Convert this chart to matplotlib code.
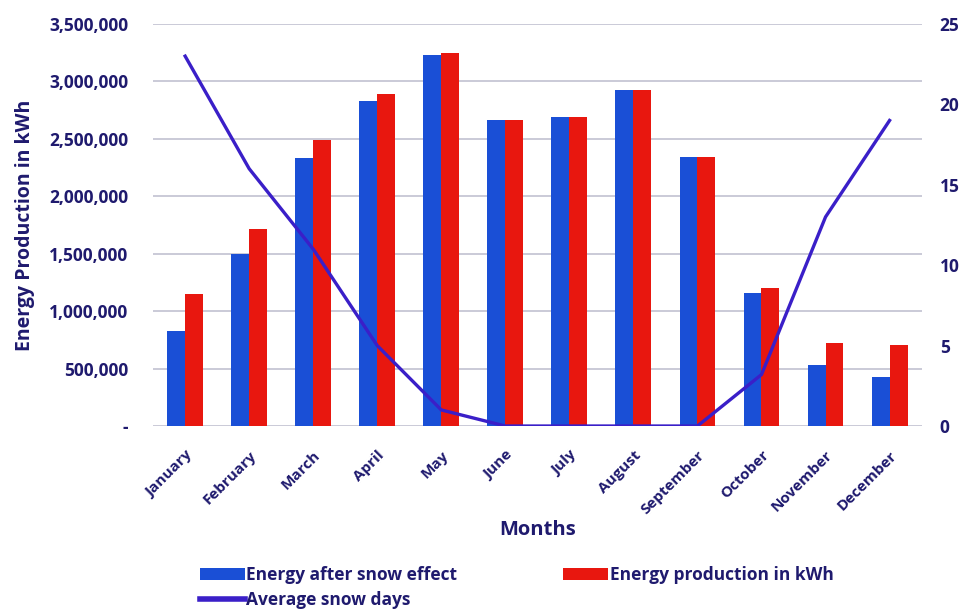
import numpy as np
import matplotlib.pyplot as plt
from matplotlib.ticker import FuncFormatter

plt.rcParams['font.family'] = ['Open Sans', 'DejaVu Sans']

# Data
months = ["January", "February", "March", "April", "May", "June", "July",
          "August", "September", "October", "November", "December"]
energy_after_snow = [827000, 1497000, 2333000, 2830000, 3230000, 2664000, 2690000,
                     2925000, 2342000, 1158000, 531000, 427000]
energy_production = [1149000, 1715000, 2490000, 2890000, 3247000, 2664000, 2690000,
                     2925000, 2342000, 1200000, 723000, 705000]
snow_days = [23, 16, 11, 5, 1, 0, 0, 0, 0, 3.2, 13, 19]

navy = '#1f1a6e'
blue = '#1a4fd6'
red = '#e8170f'
purple = '#3a1fc8'

fig = plt.figure(figsize=(9.63, 6.1), dpi=100)
ax = fig.add_axes([0.159, 0.3016, 0.798, 0.6591])

x = np.arange(len(months))
w = 0.28
b1 = ax.bar(x - w / 2, energy_after_snow, w, color=blue, zorder=2)
b2 = ax.bar(x + w / 2, energy_production, w, color=red, zorder=2)

ax.set_xlim(-0.5, 11.5)
ax.set_ylim(0, 3500000)
ax.set_yticks(np.arange(0, 3500001, 500000))
ax.yaxis.set_major_formatter(FuncFormatter(lambda v, p: '-' if v == 0 else f'{int(v):,}'))
ax.grid(axis='y', color='#c6c6d4', linewidth=1.3, zorder=0)
for s in ax.spines.values():
    s.set_visible(False)
ax.tick_params(length=0)
ax.tick_params(axis='y', labelsize=12.5, labelcolor=navy, pad=18)
ax.set_xticks(x)
ax.set_xticklabels(months, rotation=45, ha='right', rotation_mode='anchor',
                   fontsize=11, color=navy, fontweight='bold')
ax.tick_params(axis='x', pad=16)
for t in ax.get_yticklabels():
    t.set_fontweight('bold')

ax.set_ylabel('Energy Production in kWh', fontsize=14, fontweight='bold', color=navy, labelpad=10)
ax.set_xlabel('Months', fontsize=14.5, fontweight='bold', color=navy, labelpad=2)

ax2 = ax.twinx()
ln, = ax2.plot(x, snow_days, color=purple, linewidth=2.4, zorder=3)
ax2.set_ylim(0, 25)
ax2.set_yticks(np.arange(0, 26, 5))
for s in ax2.spines.values():
    s.set_visible(False)
ax2.tick_params(length=0, labelsize=12.5, labelcolor=navy, pad=13)
for t in ax2.get_yticklabels():
    t.set_fontweight('bold')

leg = fig.legend([b1, ln, b2],
                 ['Energy after snow effect', 'Average snow days', 'Energy production in kWh'],
                 loc='upper left', bbox_to_anchor=(0.2, 0.083), ncol=2, frameon=False,
                 handlelength=2.6, handletextpad=0.1, columnspacing=6.1, labelspacing=0.4,
                 borderaxespad=0, prop={'size': 12.5, 'weight': 'bold'})
for t in leg.get_texts():
    t.set_color(navy)
for l in leg.get_lines():
    l.set_linewidth(4)

fig.savefig('out.png', dpi=100)
